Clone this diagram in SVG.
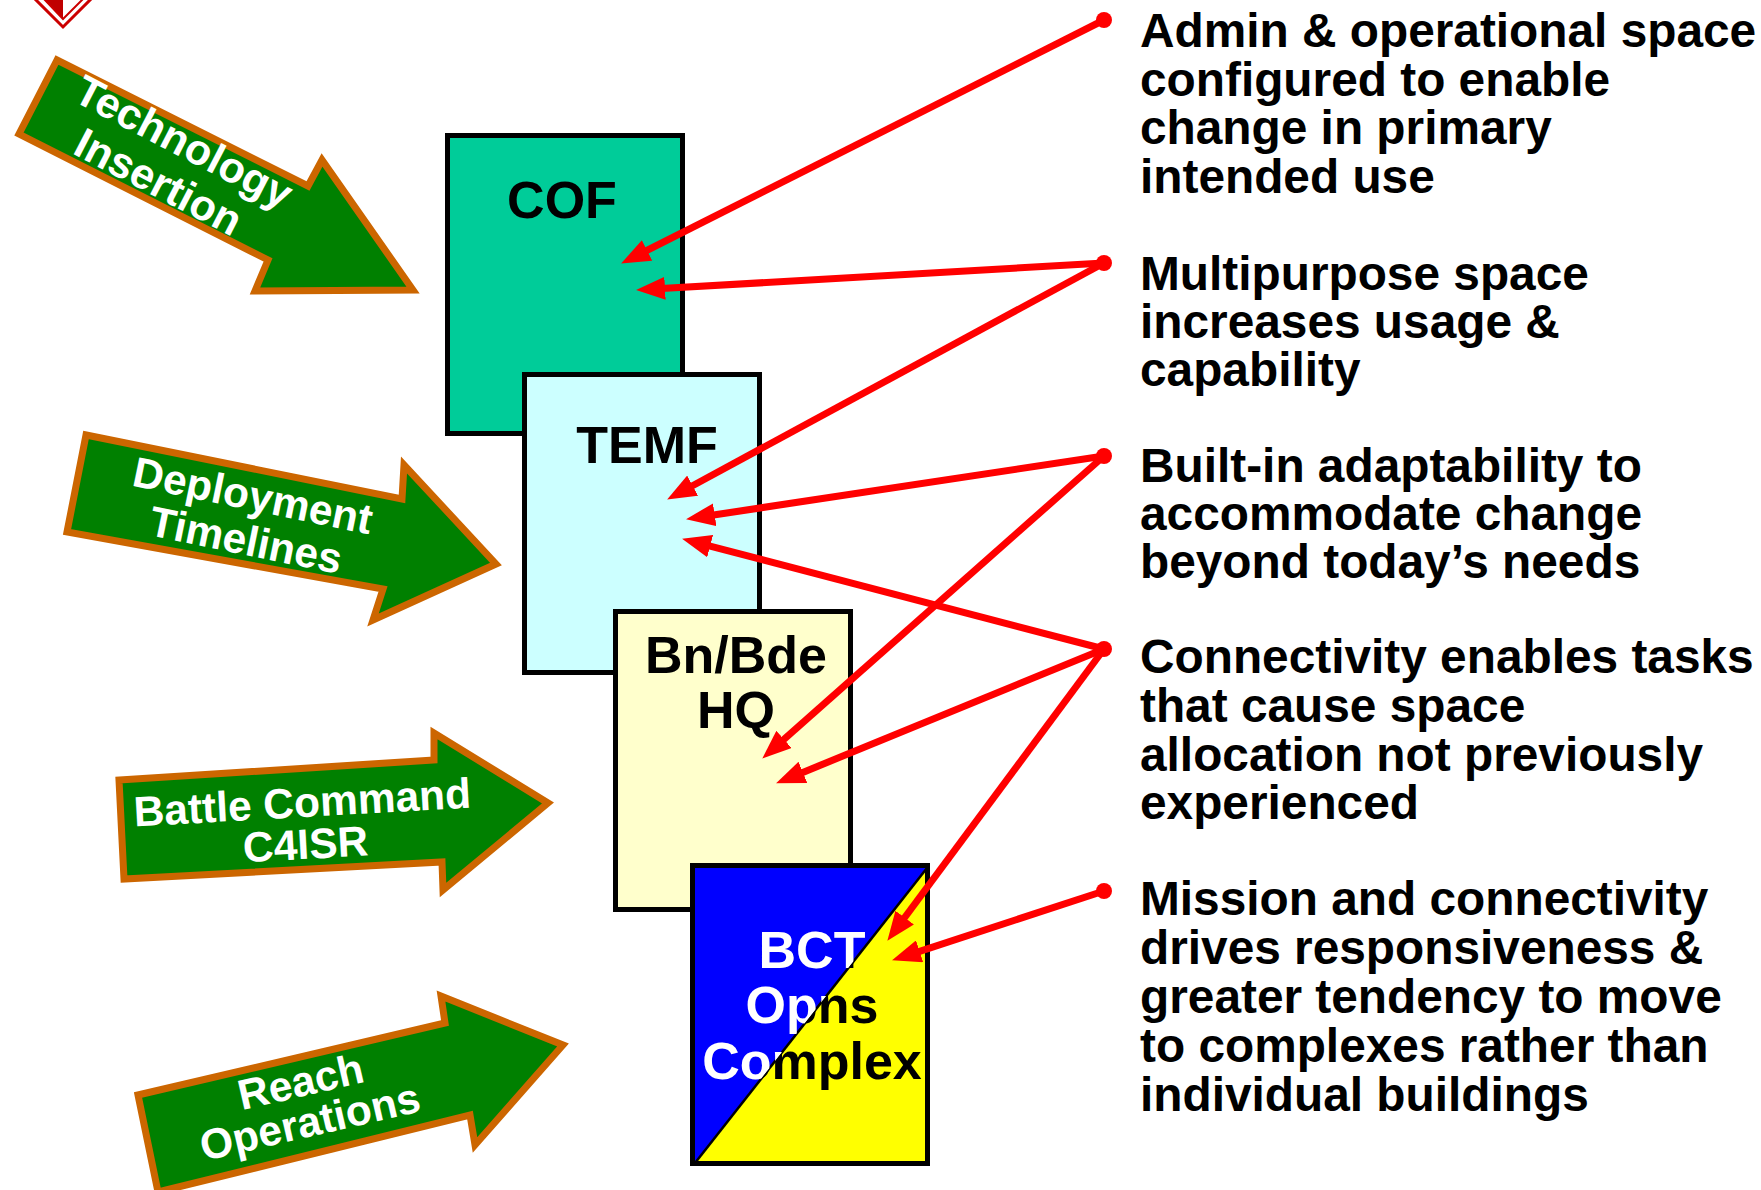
<svg xmlns="http://www.w3.org/2000/svg" width="1761" height="1190" viewBox="0 0 1761 1190">
<style>
.garrow{fill:#008000;stroke:#CC6600;stroke-width:7;stroke-linejoin:miter}
.gtext{font-family:"Liberation Sans",Arial,sans-serif;font-weight:bold;fill:#FFFFFF;text-anchor:middle}
.box{stroke:#000000;stroke-width:5}
.blabel{font-family:"Liberation Sans",Arial,sans-serif;font-weight:bold;font-size:52px;text-anchor:middle}
.desc{font-family:"Liberation Sans",Arial,sans-serif;font-weight:bold;font-size:47.8px;fill:#000000}
.conn{stroke:#FF0000;stroke-width:7;fill:none}
.dot{fill:#FF0000}
</style>
<defs>
<marker id="ah" viewBox="0 0 29 23" refX="8" refY="11.5" markerWidth="29" markerHeight="23" markerUnits="userSpaceOnUse" orient="auto">
<path d="M0,0 L29,11.5 L0,23 z" fill="#FF0000"/>
</marker>
<clipPath id="blueTri"><polygon points="695,868 927,868 695,1163"/></clipPath>
<clipPath id="yellowTri"><polygon points="927,868 927,1163 695,1163"/></clipPath>
</defs>
<rect x="0" y="0" width="1761" height="1190" fill="#FFFFFF"/>

<g id="logo">
<polygon points="34,-2 63,27 92,-2" fill="#FFFFFF" stroke="#CC0000" stroke-width="3"/>
<polygon points="43,-2 63,19 63,-2" fill="#C00000"/>
<polygon points="43,-2 63,19 84,-2" fill="none" stroke="#CC0000" stroke-width="2"/>
</g>

<g id="arrow-technology">
<polygon class="garrow" points="57,60 19,134 268,260 255,291 413,290 322,160 308,186"/>
<g transform="translate(177,155) rotate(27.5)">
<text class="gtext" font-size="43" x="0" y="0">Technology</text>
<text class="gtext" font-size="43" x="-4" y="47">Insertion</text>
</g>
</g>

<g id="arrow-deployment">
<polygon class="garrow" points="86,435 67,532 383,589 373,620 496,564 404,465 402,499"/>
<g transform="translate(250,510) rotate(11.6)">
<text class="gtext" font-size="42.5" x="0" y="0">Deployment</text>
<text class="gtext" font-size="42.5" x="2" y="45">Timelines</text>
</g>
</g>

<g id="arrow-battle">
<polygon class="garrow" points="119,780 124,879 442,862 443,890 548,803 434,733 434,760"/>
<g transform="translate(303,817) rotate(-3.2)">
<text class="gtext" font-size="42.5" x="0" y="0">Battle Command</text>
<text class="gtext" font-size="42.5" x="1" y="42">C4ISR</text>
</g>
</g>

<g id="arrow-reach">
<polygon class="garrow" points="138,1095 158,1192 470,1115 475,1145 563,1045 441,996 445,1023"/>
<g transform="translate(304,1096) rotate(-12.9)">
<text class="gtext" font-size="42.5" x="0" y="0">Reach</text>
<text class="gtext" font-size="42.5" x="0" y="41">Operations</text>
</g>
</g>

<g id="node-cof">
<rect class="box" x="447.5" y="135.5" width="235" height="298" fill="#00CC99"/>
<text class="blabel" x="562" y="218">COF</text>
</g>

<g id="node-temf">
<rect class="box" x="524.5" y="374.5" width="235" height="298" fill="#CCFFFF"/>
<text class="blabel" x="647" y="463">TEMF</text>
</g>

<g id="node-bnbde">
<rect class="box" x="615.5" y="611.5" width="235" height="298" fill="#FFFFCC"/>
<text class="blabel" x="736" y="673">Bn/Bde</text>
<text class="blabel" x="736" y="728">HQ</text>
</g>

<g id="node-bct">
<rect class="box" x="692.5" y="865.5" width="235" height="298" fill="#FFFF00"/>
<polygon points="695,868 927,868 695,1163" fill="#0000FF"/>
<line x1="695" y1="1163" x2="927" y2="868" stroke="#000000" stroke-width="2.5"/>
<g clip-path="url(#blueTri)" fill="#FFFFFF">
<text class="blabel" x="812" y="968">BCT</text>
<text class="blabel" x="812" y="1023">Opns</text>
<text class="blabel" x="812" y="1079">Complex</text>
</g>
<g clip-path="url(#yellowTri)" fill="#000000">
<text class="blabel" x="812" y="968">BCT</text>
<text class="blabel" x="812" y="1023">Opns</text>
<text class="blabel" x="812" y="1079">Complex</text>
</g>
</g>

<g id="desc-admin">
<circle class="dot" cx="1104" cy="20" r="8"/>
<text class="desc" x="1140" y="47">Admin &amp; operational space</text>
<text class="desc" x="1140" y="96">configured to enable</text>
<text class="desc" x="1140" y="144">change in primary</text>
<text class="desc" x="1140" y="193">intended use</text>
</g>

<g id="desc-multipurpose">
<circle class="dot" cx="1104" cy="263" r="8"/>
<text class="desc" x="1140" y="290">Multipurpose space</text>
<text class="desc" x="1140" y="338">increases usage &amp;</text>
<text class="desc" x="1140" y="386">capability</text>
</g>

<g id="desc-builtin">
<circle class="dot" cx="1104" cy="456" r="8"/>
<text class="desc" x="1140" y="482">Built-in adaptability to</text>
<text class="desc" x="1140" y="530">accommodate change</text>
<text class="desc" x="1140" y="578">beyond today’s needs</text>
</g>

<g id="desc-connectivity">
<circle class="dot" cx="1104" cy="649" r="8"/>
<text class="desc" x="1140" y="673">Connectivity enables tasks</text>
<text class="desc" x="1140" y="722">that cause space</text>
<text class="desc" x="1140" y="771">allocation not previously</text>
<text class="desc" x="1140" y="819">experienced</text>
</g>

<g id="desc-mission">
<circle class="dot" cx="1104" cy="891" r="8"/>
<text class="desc" x="1140" y="915">Mission and connectivity</text>
<text class="desc" x="1140" y="964">drives responsiveness &amp;</text>
<text class="desc" x="1140" y="1013">greater tendency to move</text>
<text class="desc" x="1140" y="1062">to complexes rather than</text>
<text class="desc" x="1140" y="1111">individual buildings</text>
</g>

<g id="connectors">
<line class="conn" x1="1104" y1="20" x2="639.9" y2="254" marker-end="url(#ah)"/>
<line class="conn" x1="1104" y1="263" x2="657" y2="288.8" marker-end="url(#ah)"/>
<line class="conn" x1="1104" y1="263" x2="685.6" y2="489.5" marker-end="url(#ah)"/>
<line class="conn" x1="1104" y1="456" x2="706.8" y2="516" marker-end="url(#ah)"/>
<line class="conn" x1="1104" y1="456" x2="778" y2="744.7" marker-end="url(#ah)"/>
<line class="conn" x1="1104" y1="649" x2="702.4" y2="544.1" marker-end="url(#ah)"/>
<line class="conn" x1="1104" y1="649" x2="795.5" y2="775.4" marker-end="url(#ah)"/>
<line class="conn" x1="1104" y1="649" x2="899.9" y2="924" marker-end="url(#ah)"/>
<line class="conn" x1="1104" y1="891" x2="912" y2="953.8" marker-end="url(#ah)"/>
</g>
</svg>
